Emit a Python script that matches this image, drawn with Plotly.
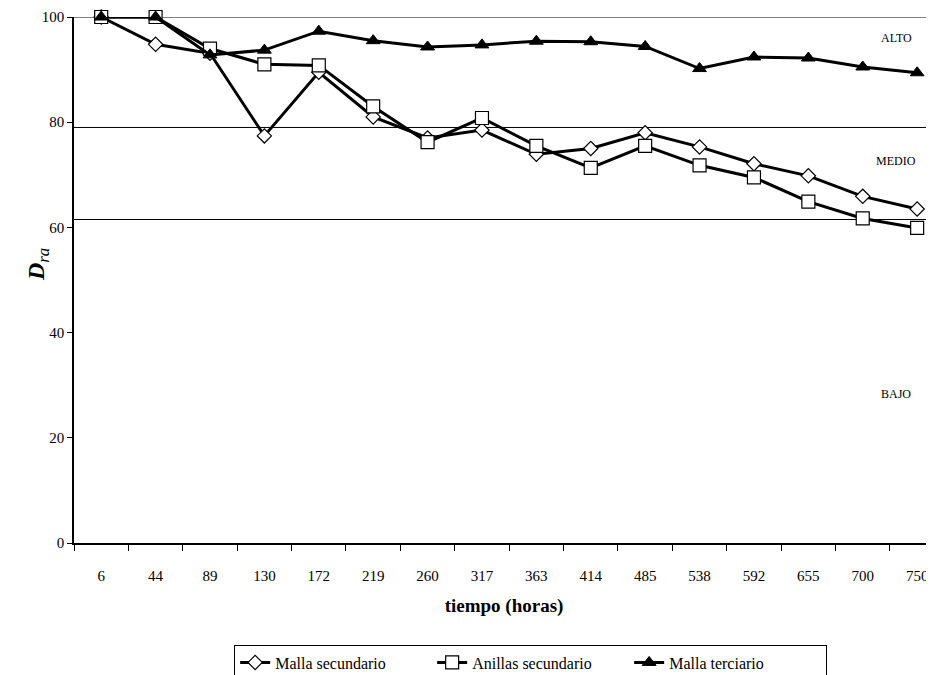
import plotly.graph_objects as go

horas = ["6", "44", "89", "130", "172", "219", "260", "317", "363", "414",
         "485", "538", "592", "655", "700", "750"]
malla_sec = [100, 94.8, 93.1, 77.4, 89.5, 81.0, 77.0, 78.5, 73.9, 75.0,
             78.0, 75.3, 72.1, 69.8, 65.9, 63.5]
anillas_sec = [100, 100, 94.0, 91.0, 90.8, 83.0, 76.2, 80.8, 75.5, 71.3,
               75.5, 71.8, 69.5, 64.9, 61.7, 59.9]
malla_ter = [100, 100, 92.8, 93.7, 97.3, 95.5, 94.3, 94.7, 95.4, 95.3,
             94.4, 90.2, 92.4, 92.2, 90.5, 89.4]
umbrales = [100, 79, 61.5]
zonas = ["ALTO", "MEDIO", "BAJO"]
zonas_y = [96, 72.6, 28.3]

FONT = "'Liberation Serif', 'DejaVu Serif', serif"
fig = go.Figure()
fig.add_trace(go.Scatter(
    x=horas, y=malla_sec, name="Malla secundario", mode="lines+markers",
    line=dict(color="black", width=3),
    marker=dict(symbol="diamond", size=11, color="white",
                line=dict(color="black", width=1.2)),
    cliponaxis=False))
fig.add_trace(go.Scatter(
    x=horas, y=anillas_sec, name="Anillas secundario", mode="lines+markers",
    line=dict(color="black", width=3),
    marker=dict(symbol="square", size=13, color="white",
                line=dict(color="black", width=1.2)),
    cliponaxis=False))
fig.add_trace(go.Scatter(
    x=horas, y=malla_ter, name="Malla terciario", mode="lines+markers",
    line=dict(color="black", width=3),
    marker=dict(symbol="triangle-up", size=12, color="black",
                line=dict(color="black", width=1)),
    cliponaxis=False))

for u in umbrales:
    fig.add_shape(type="line", xref="paper", yref="y", x0=0, x1=1, y0=u, y1=u,
                  line=dict(color="black", width=1), layer="below")
for z, zy in zip(zonas, zonas_y):
    fig.add_annotation(text=z, xref="paper", yref="y", x=0.956, y=zy,
                       xanchor="center", yanchor="middle",
                       showarrow=False, font=dict(family=FONT, size=12, color="black"))

# y-axis title as a rotated annotation
fig.add_annotation(text="<b><i>D</i></b><sub><i>ra</i></sub>", xref="paper", yref="paper",
                   x=-0.042, y=0.53, xanchor="center", yanchor="middle",
                   textangle=-90, showarrow=False,
                   font=dict(family=FONT, size=24, color="black"))

# page body has an 8px margin; figure sized so the plot area lands at 74..934 x 17..543
fig.update_layout(
    width=926, height=667,
    margin=dict(l=66, r=0, t=9, b=132, autoexpand=False),
    paper_bgcolor="white", plot_bgcolor="white",
    font=dict(family=FONT, color="black", size=14),
    showlegend=True,
    legend=dict(orientation="h", x=0.531, xanchor="center", y=-0.193, yanchor="top",
                bordercolor="black", borderwidth=1, bgcolor="white",
                font=dict(family=FONT, size=16), entrywidth=152,
                tracegroupgap=0),
    xaxis=dict(
        type="category", range=[-0.5, 15.31], automargin=False,
        showline=True, linecolor="black", linewidth=1.5,
        ticks="outside", ticklen=6, tickcolor="black", tickson="boundaries",
        showgrid=False, zeroline=False,
        ticklabelstandoff=18,
        tickfont=dict(family=FONT, size=15),
        title=dict(text="<b>tiempo (horas)</b>", font=dict(family=FONT, size=19),
                   standoff=16),
    ),
    yaxis=dict(
        range=[0, 100], tickvals=[0, 20, 40, 60, 80, 100], automargin=False,
        showline=True, linecolor="black", linewidth=1.5,
        ticks="outside", ticklen=5, tickcolor="black",
        showgrid=False, zeroline=False,
        tickfont=dict(family=FONT, size=15),
    ),
)
fig.write_html("out.html")
